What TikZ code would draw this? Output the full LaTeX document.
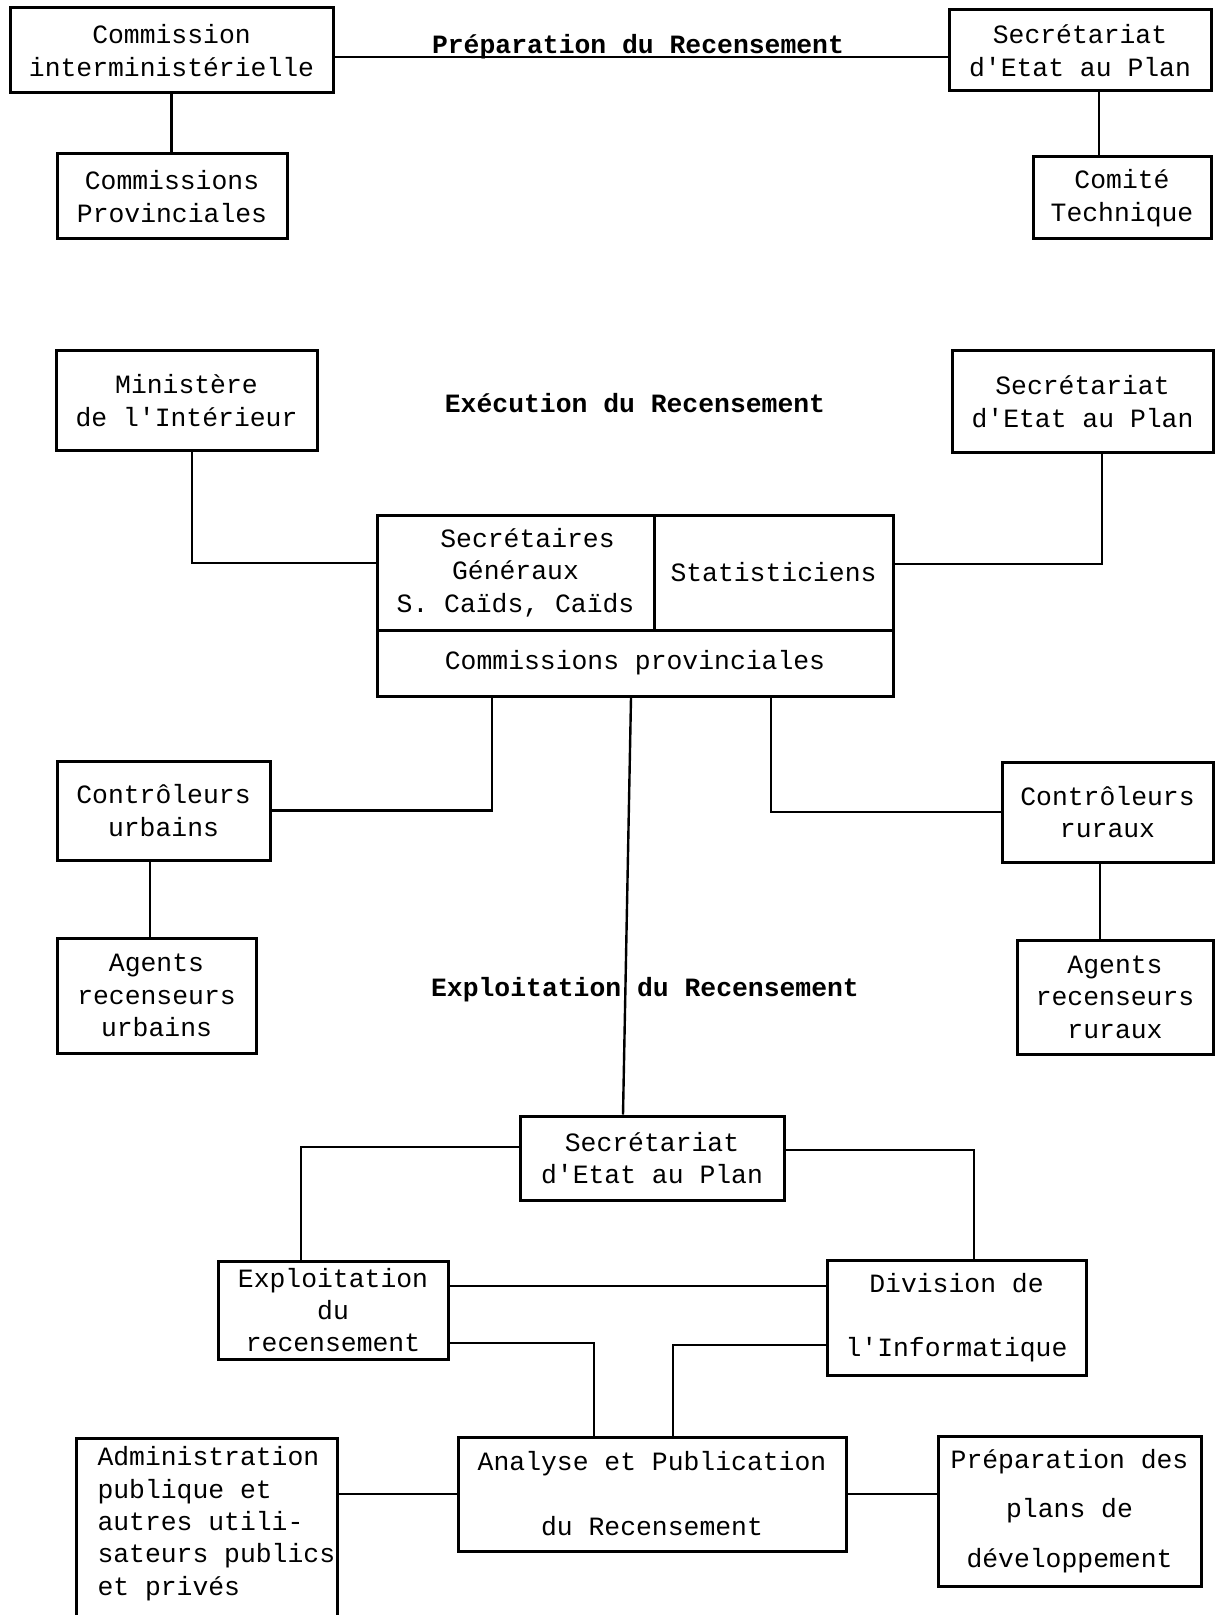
\documentclass[tikz,border=0pt]{standalone}
\usepackage{fontspec}
\setmonofont{Liberation Mono}
\usetikzlibrary{calc}
\usetikzlibrary{positioning}

\begin{document}
\begin{tikzpicture}[x=0.5pt,y=-0.5pt]
% 1 = one pixel of the page
    \def\BOXLW{1.5pt} %frame of boxes
    \def\LINKLW{1.2pt} %connectors

    \tikzset{
      box/.style={draw, line width=\BOXLW, inner sep=0pt, align=center,
        font=\ttfamily\fontsize{13.2}{16.2}\selectfont},
      link/.style={line width=\LINKLW},
      heading/.style={inner sep=0pt,
        font=\ttfamily\bfseries\fontsize{13.2}{16.2}\selectfont},
    }

    \useasboundingbox (0,0) rectangle (1215,1615);

    % PREPARATION
    \node[box, minimum width=161.5pt, minimum height=42.5pt] (ci) at (171.5,50.5)
        {Commission\\interministérielle};
    \node[box, minimum width=131pt, minimum height=40.5pt] (sepA) at (1080,50.5)
        {Secrétariat\\d'Etat au Plan};
    \node[box, minimum width=115pt, minimum height=42.5pt] (cp) at (172,196.5)
        {Commissions\\Provinciales};
    \node[box, minimum width=89pt, minimum height=41pt] (ct) at (1122,198)
        {Comité\\Technique};

    \node[heading, anchor=base] (tprep) at (638,54) {Préparation du Recensement};

    \draw[link] ([yshift=-3.25pt]ci.east) -- ([yshift=-3.25pt]ci.east -| sepA.west);
    \draw[link] (ci.south) -- (ci.south |- cp.north);
    \draw[link] ([xshift=9.5pt]sepA.south) -- ([xshift=9.5pt]sepA.south |- ct.north);

    % EXECUTION
    \node[box, minimum width=130.5pt, minimum height=49.5pt] (mi) at (186.5,400.5)
        {Ministère\\de l'Intérieur};
    \node[box, minimum width=130.5pt, minimum height=50.5pt] (sepB) at (1082.5,401.5)
        {Secrétariat\\d'Etat au Plan};
    \node[heading] (texec) at (635,403) {Exécution du Recensement};

    %central box
    \node[box, minimum width=138.5pt, minimum height=57.5pt] (sg) at (515.5,572.5)
        {\hspace*{12pt}Secrétaires\\Généraux\\S. Caïds, Caïds};
    \node[box, minimum width=119.5pt, minimum height=57.5pt] (stat) at (773.5,572.5)
        {Statisticiens};
    \node[box, minimum width=258pt, minimum height=33pt] (cprov) at (635,663)
        {Commissions provinciales};

    \draw[link] ([xshift=2.75pt]mi.south) |- ([yshift=4.75pt]sg.west);
    \draw[link] ([xshift=9.75pt]sepB.south) |- ([yshift=4.25pt]stat.east);

    %controleurs and agents
    \node[box, minimum width=106.5pt, minimum height=49.5pt] (cu) at (163.5,810.5)
        {Contrôleurs\\urbains};
    \node[box, minimum width=99.5pt, minimum height=57.5pt] (au) at (156.5,995.5)
        {Agents\\recenseurs\\urbains};
    \node[box, minimum width=105.5pt, minimum height=50pt] (cr) at (1107.5,812)
        {Contrôleurs\\ruraux};
    \node[box, minimum width=98pt, minimum height=57pt] (ar) at (1115,997)
        {Agents\\recenseurs\\ruraux};

    \draw[link] ([xshift=-71.5pt]cprov.south) |- (cu.east);
    \draw[link] ([xshift=68pt]cprov.south) |- (cr.west);
    \draw[link] ([xshift=-6.75pt]cu.south) -- ([xshift=-6.75pt]cu.south |- au.north);
    \draw[link] ([xshift=-3.75pt]cr.south) -- ([xshift=-3.75pt]cr.south |- ar.north);

    % EXPLOITATION
    \node[heading] (texpl) at (645,990) {Exploitation du Recensement};
    \node[box, minimum width=132pt, minimum height=42pt] (sepC) at (652,1158)
        {Secrétariat\\d'Etat au Plan};
    \draw[link] ([xshift=-2pt]cprov.south) -- ([xshift=-14.5pt]sepC.north);

    \node[box, minimum width=115pt, minimum height=49pt] (expl) at (333,1310)
        {Exploitation\\du\\recensement};
    \node[box, minimum width=129.5pt, minimum height=57.5pt] (div) at (956.5,1317.5)
        {Division de\\[16pt]l'Informatique};

    \draw[link] ([yshift=5.5pt]sepC.west) -| ([xshift=-16pt]expl.north);
    \draw[link] ([yshift=4pt]sepC.east) -| ([xshift=8.75pt]div.north);
    \draw[link] ([yshift=12pt]expl.east) -- ([yshift=12pt]expl.east -| div.west);

    %analyse and users
    \node[box, minimum width=194pt, minimum height=57pt] (ap) at (652,1494)
        {Analyse et Publication\\[16.3pt]du Recensement};
    \node[box, anchor=north west, minimum width=130.5pt, minimum height=100pt,
        label={[box, draw=none, anchor=north west, align=left, xshift=10.5pt, yshift=-4pt]north west:Administration\\publique et\\autres utili-\\sateurs publics\\et privés}]
        (adm) at (75,1437) {};
    \node[box, minimum width=131.5pt, minimum height=75pt] (prep) at (1069.5,1511)
        {Préparation des\\[8.5pt]plans de\\[8.5pt]développement};

    \draw[link] ([yshift=-16.5pt]expl.east) -| ([xshift=-29pt]ap.north);
    \draw[link] ([yshift=-13.75pt]div.west) -| ([xshift=10.5pt]ap.north);
    \draw[link] (ap.west) -- (ap.west -| adm.east);
    \draw[link] (ap.east) -- (ap.east -| prep.west);

\end{tikzpicture}
\end{document}
